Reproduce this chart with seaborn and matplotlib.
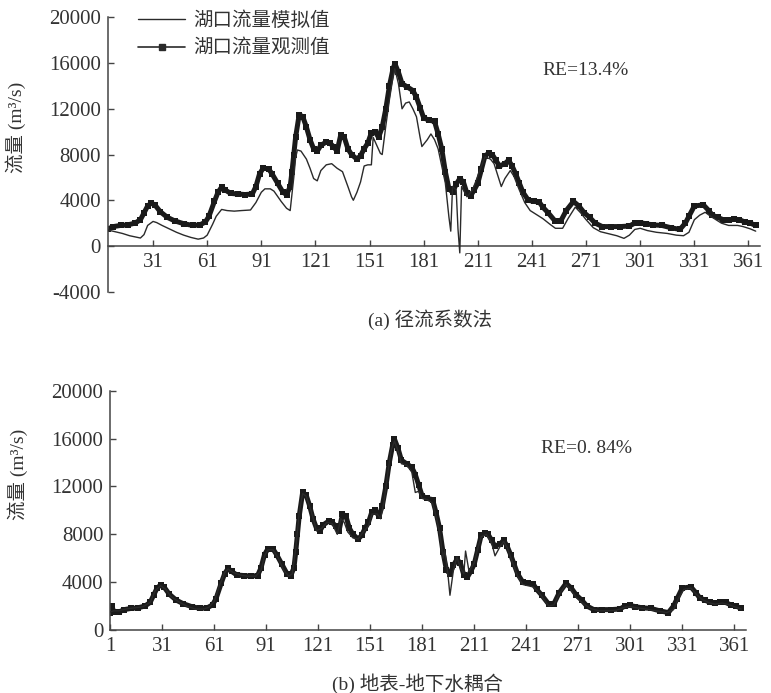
import matplotlib
matplotlib.use("Agg")
import matplotlib.pyplot as plt
from matplotlib.lines import Line2D
import seaborn as sns

# observed discharge at Hukou (shared by both panels), day of year / m3/s
obs_day = [1, 2, 3, 6, 9, 13, 17, 21, 24, 26, 28, 30, 32, 35, 39, 43, 48, 53, 57, 60,
           62, 65, 67, 69, 71, 74, 78, 82, 86, 88, 90, 92, 95, 97, 100, 103, 105, 107, 108, 109,
           110, 112, 114, 116, 118, 120, 122, 124, 127, 129, 131, 133, 135, 137, 139, 141, 144, 146, 148, 150,
           152, 154, 156, 158, 160, 162, 164, 165, 167, 169, 172, 175, 177, 179, 181, 184, 187, 189, 191, 193,
           195, 197, 199, 201, 203, 205, 207, 209, 211, 213, 215, 217, 219, 221, 223, 226, 228, 230, 232, 234,
           236, 239, 242, 245, 247, 250, 254, 257, 260, 264, 267, 270, 273, 276, 280, 285, 290, 295, 298, 301,
           304, 308, 313, 318, 323, 326, 328, 331, 336, 339, 341, 344, 347, 350, 353, 356, 359, 362, 365]
obs_q = [1400, 2000, 1500, 1500, 1700, 1800, 1850, 2000, 2300, 2900, 3500, 3750, 3600, 3000, 2500, 2200, 1950, 1800, 1850, 2100,
         2600, 3900, 4700, 5150, 4900, 4600, 4550, 4500, 4550, 5200, 6300, 6800, 6750, 6300, 5500, 4700, 4500, 5200, 6500, 8000,
         9500, 11500, 11300, 10400, 9300, 8500, 8300, 8800, 9100, 9000, 8700, 8300, 9700, 9500, 8500, 8000, 7600, 7900, 8500, 9000,
         9900, 10000, 9500, 10400, 12000, 14000, 15500, 15950, 15200, 14200, 13900, 13600, 13000, 12100, 11200, 11000, 10900, 9800, 8500, 6500,
         5000, 4700, 5400, 5900, 5600, 4600, 4400, 4900, 5500, 6700, 7900, 8100, 8000, 7500, 7000, 7200, 7500, 7000, 6300, 5500,
         4700, 4000, 3900, 3850, 3400, 2900, 2150, 2200, 3100, 3900, 3500, 2900, 2500, 2000, 1700, 1700, 1700, 1750, 2000, 2050,
         1950, 1850, 1800, 1600, 1450, 2000, 2600, 3500, 3600, 3100, 2700, 2500, 2300, 2250, 2350, 2300, 2100, 2000, 1800]

# (a) runoff coefficient method, simulated
sim_a_day = [6, 10, 14, 18, 21, 24, 26, 28, 31, 33, 36, 40, 44, 48, 52, 56, 59, 61, 64, 66,
             69, 72, 76, 80, 85, 88, 91, 93, 96, 98, 102, 105, 107, 109, 110, 111, 113, 116, 118, 120,
             122, 124, 127, 130, 133, 136, 139, 141, 142, 144, 146, 148, 150, 152, 153, 155, 157, 158, 160, 162,
             164, 165, 167, 169, 171, 173, 175, 177, 179, 180, 183, 185, 187, 189, 191, 193, 194, 195, 196, 197,
             199, 200, 201, 202, 205, 208, 210, 213, 215, 218, 220, 222, 224, 226, 229, 231, 234, 237, 240, 244,
             247, 251, 254, 258, 261, 265, 268, 271, 275, 279, 284, 288, 292, 295, 298, 301, 305, 310, 316, 321,
             325, 328, 331, 334, 337, 340, 343, 346, 350, 355, 358, 362, 365]
sim_a_q = [1400, 1250, 1100, 900, 800, 700, 1000, 1800, 2150, 2050, 1800, 1500, 1200, 950, 750, 600, 700, 950, 1900, 2600,
           3200, 3100, 3050, 3100, 3150, 3800, 4700, 5000, 5000, 4800, 3900, 3300, 3100, 6000, 7700, 8400, 8300, 7600, 6800, 5900,
           5700, 6600, 7100, 7200, 6800, 6500, 5200, 4300, 4000, 4700, 5600, 7000, 7100, 7100, 9500, 8800, 8100, 8000, 10500, 12800,
           14800, 15500, 14200, 12000, 12500, 12600, 12000, 11300, 9500, 8700, 9300, 9800, 9300, 8500, 7000, 5500, 4000, 2500, 1300, 5200,
           4900, 1500, -600, 5200, 4300, 4900, 5700, 7000, 7800, 7600, 7200, 6200, 5200, 5900, 6600, 6100, 4900, 3800, 3100, 2700,
           2400, 1900, 1550, 1550, 2400, 3400, 2900, 2300, 1600, 1250, 1050, 900, 670, 950, 1450, 1550, 1350, 1200, 1100, 950,
           900, 1200, 2300, 2700, 2950, 2600, 2300, 2000, 1800, 1800, 1700, 1500, 1300]

# (b) surface-groundwater coupling, simulated
sim_b_day = [1, 3, 6, 10, 15, 20, 24, 27, 30, 33, 36, 40, 45, 50, 55, 58, 61, 64, 67, 69,
             72, 76, 80, 85, 88, 90, 92, 95, 98, 101, 104, 106, 108, 110, 112, 114, 117, 120, 123, 126,
             129, 132, 134, 136, 138, 141, 144, 147, 150, 152, 155, 157, 159, 161, 163, 165, 167, 169, 172, 175,
             177, 179, 181, 184, 187, 189, 191, 193, 194, 196, 197, 199, 201, 203, 205, 206, 208, 211, 213, 215,
             218, 221, 223, 226, 228, 230, 233, 236, 239, 242, 245, 248, 251, 254, 257, 260, 264, 267, 270, 274,
             278, 283, 288, 293, 298, 301, 305, 310, 316, 322, 326, 329, 332, 336, 339, 342, 346, 350, 354, 357,
             361, 365]
sim_b_q = [1500, 1600, 1600, 1750, 1850, 1950, 2300, 3300, 3700, 3400, 2800, 2400, 2000, 1750, 1750, 1900, 2400, 3700, 4800, 5100,
           4800, 4600, 4500, 4500, 5000, 6200, 6700, 6700, 6000, 5000, 4500, 4700, 6800, 9800, 11400, 11200, 9900, 8300, 8500, 9000,
           8900, 8000, 9300, 9000, 8200, 7700, 7600, 8200, 8700, 9700, 9700, 9300, 10800, 13000, 15000, 15800, 15000, 13900, 13800, 13200,
           11500, 11600, 11000, 10900, 10600, 9500, 8200, 6000, 6700, 4400, 2900, 5000, 6100, 5200, 4700, 6600, 4900, 5600, 6800, 7800,
           8000, 7300, 6200, 7000, 7400, 6900, 5700, 4500, 3800, 3700, 3600, 3200, 2600, 2000, 2100, 3000, 3800, 3300, 2700, 2200,
           1800, 1600, 1600, 1650, 1900, 1950, 1850, 1750, 1600, 1450, 1700, 2700, 3400, 3500, 3000, 2600, 2300, 2150, 2250, 2150,
           1950, 1750]

sns.set_style("ticks")
plt.rcParams['font.family'] = ['Liberation Serif', 'Noto Sans CJK SC']
plt.rcParams['axes.unicode_minus'] = False
txt = "#333333"

fig = plt.figure(figsize=(7.71, 6.93), dpi=100)
ax1 = fig.add_axes([0.140, 0.579, 0.846, 0.396])
ax2 = fig.add_axes([0.143, 0.091, 0.825, 0.345])

for ax, sday, sq in [(ax1, sim_a_day, sim_a_q), (ax2, sim_b_day, sim_b_q)]:
    sns.lineplot(x=sday, y=sq, ax=ax, color="#2a2a2a", linewidth=1.0, zorder=3)
    sns.lineplot(x=obs_day, y=obs_q, ax=ax, color="#1a1a1a", linewidth=3.6,
                 marker="s", markersize=4.5, markeredgewidth=0, zorder=2)
    sns.despine(ax=ax)
    ax.tick_params(direction="in", length=4, width=1, colors="#444444",
                   labelsize=15, labelcolor=txt, pad=5)
    for sp in ["left", "bottom"]:
        ax.spines[sp].set_linewidth(1.1)
        ax.spines[sp].set_color("#444444")
    ax.set_ylabel("流量 (m³/s)", fontsize=14, color=txt)

ax1.set_xlim(6, 367.5)
ax1.set_ylim(-4000, 20000)
ax1.set_xticks(range(31, 362, 30))
ax1.set_yticks(range(-4000, 20001, 4000))
ax1.spines["bottom"].set_position(("data", 0))
ax1.yaxis.set_label_coords(-0.125, 0.6)
ax1.text(0.732, 0.807, "RE=13.4%", transform=ax1.transAxes, ha="center", va="center",
         fontsize=14, color=txt)

ax2.set_xlim(1, 368)
ax2.set_ylim(0, 20000)
ax2.set_xticks(range(1, 362, 30))
ax2.set_yticks(range(0, 20001, 4000))
ax2.yaxis.set_label_coords(-0.13, 0.65)
ax2.text(0.748, 0.757, "RE=0. 84%", transform=ax2.transAxes, ha="center", va="center",
         fontsize=14, color=txt)

handles = [Line2D([], [], color="#2a2a2a", linewidth=1.0),
           Line2D([], [], color="#2a2a2a", linewidth=1.2, marker="s", markersize=4)]
ax1.legend(handles, ["湖口流量模拟值", "湖口流量观测值"], loc="upper left",
           bbox_to_anchor=(0.02, 1.085), frameon=False, fontsize=14, handlelength=2.4,
           handletextpad=0.4, labelspacing=0.45, labelcolor=txt)

fig.text(0.558, 1 - 320 / 693, "(a) 径流系数法", ha="center", va="center", fontsize=14, color=txt)
fig.text(0.542, 1 - 684 / 693, "(b) 地表-地下水耦合", ha="center", va="center", fontsize=14, color=txt)

fig.savefig("out.png", dpi=100)
